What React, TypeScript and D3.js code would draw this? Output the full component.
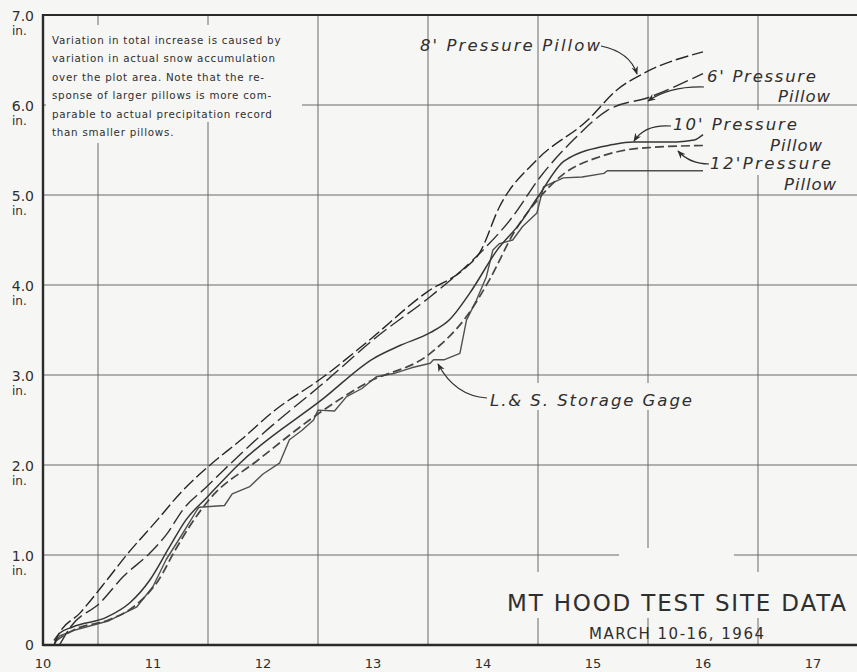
import React, { useEffect, useRef } from 'react';
import * as d3 from 'd3';

const WIDTH = 857;
const HEIGHT = 672;

// days of March 1964
const dayTicks = [10, 11, 12, 13, 14, 15, 16, 17];
const gridDays = [10.5, 11.5, 12.5, 13.5, 14.5, 15.5, 16.5];
// accumulated water equivalent, inches
const inchTicks = [0, 1, 2, 3, 4, 5, 6, 7];
const gridInches = [1, 2, 3, 4, 5, 6];

// [day, inches]
const pillow8 = [
  [10.1, 0.0], [10.13, 0.09], [10.34, 0.36], [10.58, 0.72], [10.76, 1.0],
  [11.04, 1.39], [11.25, 1.69], [11.5, 1.98], [11.8, 2.28], [12.1, 2.6],
  [12.55, 2.98], [12.94, 3.36], [13.5, 3.93], [13.82, 4.17], [13.97, 4.36],
  [14.15, 4.87], [14.49, 5.39], [14.95, 5.83], [15.22, 6.17], [15.49, 6.37],
  [16.0, 6.59],
];
const pillow6 = [
  [10.15, 0.0], [10.25, 0.2], [10.52, 0.47], [10.73, 0.76], [10.97, 1.02],
  [11.13, 1.24], [11.27, 1.5], [11.49, 1.76], [11.64, 1.94], [12.0, 2.35],
  [12.55, 2.91], [13.03, 3.42], [13.52, 3.87], [13.91, 4.28], [14.27, 4.76],
  [14.52, 5.2], [14.82, 5.61], [15.13, 5.94], [15.52, 6.09], [16.0, 6.35],
];
const pillow10 = [
  [10.1, 0.05], [10.15, 0.13], [10.27, 0.2], [10.58, 0.31], [10.79, 0.47],
  [10.97, 0.72], [11.15, 1.09], [11.3, 1.39], [11.49, 1.64], [11.79, 2.02],
  [12.55, 2.74], [13.0, 3.18], [13.25, 3.33], [13.52, 3.47], [13.7, 3.62],
  [13.88, 3.91], [14.13, 4.39], [14.34, 4.69], [14.5, 4.98], [14.74, 5.38],
  [15.18, 5.56], [15.36, 5.59], [15.76, 5.59], [15.92, 5.61], [16.0, 5.67],
];
const pillow12 = [
  [10.12, 0.05], [10.3, 0.18], [10.6, 0.28], [10.85, 0.45], [11.05, 0.72],
  [11.2, 1.05], [11.35, 1.35], [11.5, 1.6], [11.95, 2.05], [12.55, 2.61],
  [12.94, 2.91], [13.52, 3.24], [13.85, 3.65], [14.06, 4.06], [14.28, 4.58],
  [14.52, 4.98], [14.74, 5.24], [15.05, 5.42], [15.3, 5.5], [15.55, 5.53],
  [16.0, 5.55],
];
const storageGage = [
  [10.1, 0.0], [10.15, 0.1], [10.3, 0.17], [10.6, 0.27], [10.85, 0.42],
  [11.0, 0.65], [11.12, 0.95], [11.25, 1.2], [11.4, 1.5], [11.42, 1.53],
  [11.65, 1.55], [11.72, 1.68], [11.88, 1.76], [12.0, 1.9], [12.15, 2.02],
  [12.24, 2.28], [12.35, 2.38], [12.46, 2.5], [12.5, 2.61], [12.65, 2.6],
  [12.76, 2.76], [12.9, 2.85], [13.03, 2.98], [13.2, 3.02], [13.35, 3.08],
  [13.52, 3.13], [13.55, 3.17], [13.65, 3.17], [13.79, 3.24], [13.85, 3.61],
  [13.94, 3.83], [14.03, 4.09], [14.09, 4.39], [14.15, 4.46], [14.27, 4.5],
  [14.36, 4.65], [14.49, 4.8], [14.55, 5.09], [14.73, 5.19], [14.9, 5.2],
  [15.1, 5.24], [15.13, 5.27], [16.0, 5.27],
];

const noteLines = [
  'Variation in total increase is caused by',
  'variation in actual snow accumulation',
  'over the plot area.  Note that the re-',
  'sponse of larger pillows is more com-',
  'parable to actual precipitation record',
  'than smaller pillows.',
];

const INK = '#2f2f2f';
const BG = '#f6f6f4';

const MtHoodChart = () => {
  const svgRef = useRef(null);

  useEffect(() => {
    const svg = d3.select(svgRef.current);
    svg.selectAll('*').remove();

    const x = d3.scaleLinear().domain([10, 17]).range([43, 813]);
    const y = d3.scaleLinear().domain([0, 7]).range([645, 15]);

    svg.append('rect').attr('width', WIDTH).attr('height', HEIGHT).attr('fill', BG);

    const defs = svg.append('defs');
    defs
      .append('marker')
      .attr('id', 'arrowhead')
      .attr('viewBox', '0 0 10 10')
      .attr('refX', 9)
      .attr('refY', 5)
      .attr('markerWidth', 7)
      .attr('markerHeight', 7)
      .attr('orient', 'auto')
      .append('path')
      .attr('d', 'M0,1 L10,5 L0,9 L3,5 Z')
      .attr('fill', INK);

    // grid
    const grid = svg.append('g').attr('stroke', '#6a6a6a').attr('stroke-width', 1);
    grid
      .selectAll('line.v')
      .data(gridDays)
      .enter()
      .append('line')
      .attr('x1', d => x(d))
      .attr('x2', d => x(d))
      .attr('y1', y(7))
      .attr('y2', y(0));
    grid
      .selectAll('line.h')
      .data(gridInches)
      .enter()
      .append('line')
      .attr('x1', x(10))
      .attr('x2', WIDTH)
      .attr('y1', d => y(d))
      .attr('y2', d => y(d));

    // blank areas behind the lettering (grid is broken there)
    const blank = svg.append('g').attr('fill', BG);
    blank.append('rect').attr('x', 46).attr('y', 25).attr('width', 256).attr('height', 97);
    blank.append('rect').attr('x', 46).attr('y', 120).attr('width', 100).attr('height', 23);
    blank.append('rect').attr('x', 706).attr('y', 110).attr('width', 151).attr('height', 65);
    blank.append('rect').attr('x', 670).attr('y', 114).attr('width', 40).attr('height', 20);
    blank.append('rect').attr('x', 487).attr('y', 383).attr('width', 212).attr('height', 27);
    blank.append('rect').attr('x', 500).attr('y', 572).attr('width', 355).attr('height', 46);
    blank.append('rect').attr('x', 619).attr('y', 548).attr('width', 115).attr('height', 26);

    // frame
    const frame = svg.append('g').attr('stroke', '#2a2a2a');
    frame.append('line').attr('x1', x(10)).attr('x2', x(10)).attr('y1', y(7) - 1).attr('y2', y(0) + 1).attr('stroke-width', 2.4);
    frame.append('line').attr('x1', x(10)).attr('x2', WIDTH).attr('y1', y(0)).attr('y2', y(0)).attr('stroke-width', 2.4);
    frame.append('line').attr('x1', x(10)).attr('x2', WIDTH).attr('y1', y(7)).attr('y2', y(7)).attr('stroke-width', 1.8);

    // axis labels
    const axisFont = '"DejaVu Sans", sans-serif';
    svg
      .selectAll('text.xtick')
      .data(dayTicks)
      .enter()
      .append('text')
      .attr('x', d => x(d))
      .attr('y', 668)
      .attr('text-anchor', 'middle')
      .attr('font-family', axisFont)
      .attr('font-size', 13)
      .attr('fill', INK)
      .text(d => d);

    svg
      .selectAll('text.ytick')
      .data(inchTicks)
      .enter()
      .append('text')
      .attr('x', 34)
      .attr('y', d => y(d) + (d === 0 ? 5 : 6))
      .attr('text-anchor', 'end')
      .attr('font-family', axisFont)
      .attr('font-size', 14)
      .attr('fill', INK)
      .text(d => (d === 0 ? '0' : d.toFixed(1)));

    svg
      .selectAll('text.yunit')
      .data(inchTicks.filter(d => d > 0))
      .enter()
      .append('text')
      .attr('x', 12)
      .attr('y', d => y(d) + 20)
      .attr('font-family', axisFont)
      .attr('font-size', 12)
      .attr('fill', INK)
      .text('in.');

    // curves
    const smooth = d3
      .line()
      .x(d => x(d[0]))
      .y(d => y(d[1]))
      .curve(d3.curveMonotoneX);
    const stepped = d3
      .line()
      .x(d => x(d[0]))
      .y(d => y(d[1]));

    const series = [
      { data: storageGage, gen: stepped, dash: null, width: 1.4, color: '#505050' },
      { data: pillow12, gen: smooth, dash: '9,4', width: 1.7, color: '#454545' },
      { data: pillow10, gen: smooth, dash: null, width: 1.5, color: '#363636' },
      { data: pillow6, gen: smooth, dash: '16,5', width: 1.4, color: '#303030' },
      { data: pillow8, gen: smooth, dash: '13,4', width: 1.4, color: '#262626' },
    ];
    svg
      .append('g')
      .selectAll('path')
      .data(series)
      .enter()
      .append('path')
      .attr('d', s => s.gen(s.data))
      .attr('fill', 'none')
      .attr('stroke', s => s.color)
      .attr('stroke-width', s => s.width)
      .attr('stroke-dasharray', s => s.dash)
      .attr('stroke-linejoin', 'round');

    // curve labels
    const labelFont = '"DejaVu Sans", sans-serif';
    const labels = [
      { t: "8' Pressure Pillow", x: 420, y: 51, w: 180, anchor: 'start' },
      { t: "6' Pressure", x: 707, y: 82, w: 109, anchor: 'start' },
      { t: 'Pillow', x: 830, y: 102, w: 52, anchor: 'end' },
      { t: "10' Pressure", x: 673, y: 130, w: 124, anchor: 'start' },
      { t: 'Pillow', x: 822, y: 151, w: 52, anchor: 'end' },
      { t: "12'Pressure", x: 710, y: 169, w: 121, anchor: 'start' },
      { t: 'Pillow', x: 836, y: 190, w: 52, anchor: 'end' },
      { t: 'L.& S. Storage Gage', x: 490, y: 406, w: 202, anchor: 'start' },
    ];
    svg
      .selectAll('text.lbl')
      .data(labels)
      .enter()
      .append('text')
      .attr('x', d => d.x)
      .attr('y', d => d.y)
      .attr('text-anchor', d => d.anchor)
      .attr('font-family', labelFont)
      .attr('font-style', 'italic')
      .attr('font-size', 16.5)
      .attr('textLength', d => d.w)
      .attr('lengthAdjust', 'spacing')
      .attr('fill', INK)
      .text(d => d.t);

    // leader arrows
    const arrows = [
      'M601,46 Q630,52 637,74',
      'M704,87 Q670,86 648,101',
      'M671,126 Q645,124 634,141',
      'M709,164 Q690,164 678,151',
      'M487,398 Q455,396 438,364',
    ];
    svg
      .append('g')
      .selectAll('path')
      .data(arrows)
      .enter()
      .append('path')
      .attr('d', d => d)
      .attr('fill', 'none')
      .attr('stroke', INK)
      .attr('stroke-width', 1.2)
      .attr('marker-end', 'url(#arrowhead)');

    // note
    svg
      .append('g')
      .selectAll('text')
      .data(noteLines)
      .enter()
      .append('text')
      .attr('x', 52)
      .attr('y', (d, i) => 44 + i * 18.4)
      .attr('font-family', axisFont)
      .attr('font-size', 10.3)
      .attr('letter-spacing', 0.75)
      .attr('fill', INK)
      .text(d => d);

    // title
    svg
      .append('text')
      .attr('x', 507)
      .attr('y', 611)
      .attr('font-family', axisFont)
      .attr('font-size', 23)
      .attr('textLength', 339)
      .attr('lengthAdjust', 'spacing')
      .attr('fill', INK)
      .text('MT HOOD TEST SITE DATA');
    svg
      .append('text')
      .attr('x', 589)
      .attr('y', 639)
      .attr('font-family', axisFont)
      .attr('font-size', 15)
      .attr('textLength', 175)
      .attr('lengthAdjust', 'spacing')
      .attr('fill', INK)
      .text('MARCH 10-16, 1964');
  }, []);

  return <svg ref={svgRef} width={WIDTH} height={HEIGHT} style={{ display: 'block' }} />;
};

const App = () => (
  <div style={{ position: 'absolute', left: 0, top: 0 }}>
    <MtHoodChart />
  </div>
);

export default App;
